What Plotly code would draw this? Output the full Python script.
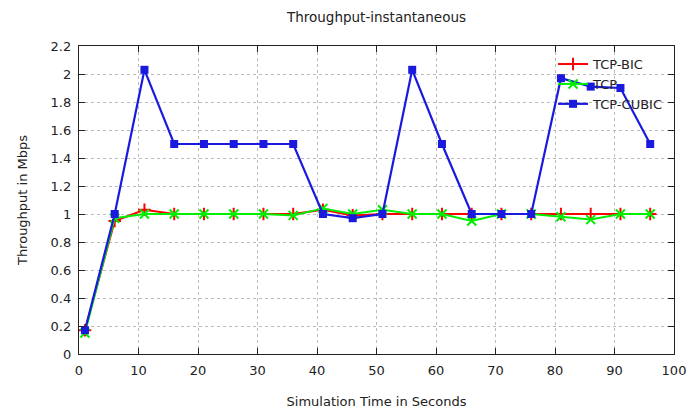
import plotly.graph_objects as go

time_s = [1, 6, 11, 16, 21, 26, 31, 36, 41, 46, 51, 56, 61, 66, 71, 76, 81, 86, 91, 96]
tcp_bic = [0.17, 0.95, 1.03, 1.0, 1.0, 1.0, 1.0, 1.0, 1.03, 0.99, 1.0, 1.0, 1.0, 1.0, 1.0, 1.0, 1.0, 1.0, 1.0, 1.0]
tcp = [0.15, 0.97, 1.0, 1.0, 1.0, 1.0, 1.0, 0.99, 1.04, 1.0, 1.03, 1.0, 1.0, 0.95, 1.0, 1.0, 0.98, 0.96, 1.0, 1.0]
tcp_cubic = [0.17, 1.0, 2.03, 1.5, 1.5, 1.5, 1.5, 1.5, 1.0, 0.97, 1.0, 2.03, 1.5, 1.0, 1.0, 1.0, 1.97, 1.91, 1.9, 1.5]

x_ticks = list(range(0, 101, 10))
y_ticks = [round(0.2 * i, 1) for i in range(12)]

fig = go.Figure()
fig.add_trace(go.Scatter(x=time_s, y=tcp_bic, name="TCP-BIC", mode="lines+markers",
                         line=dict(color="#ff0000", width=2),
                         marker=dict(symbol="cross-thin", size=9, line=dict(color="#ff0000", width=2))))
fig.add_trace(go.Scatter(x=time_s, y=tcp, name="TCP", mode="lines+markers",
                         line=dict(color="#00ee00", width=2),
                         marker=dict(symbol="x-thin", size=9, line=dict(color="#00ee00", width=2))))
fig.add_trace(go.Scatter(x=time_s, y=tcp_cubic, name="TCP-CUBIC", mode="lines+markers",
                         line=dict(color="#1a1adf", width=2.2),
                         marker=dict(symbol="square", size=8, color="#1a1adf")))

axis_common = dict(showline=True, linecolor="#222", linewidth=1.3, mirror="ticks",
                   ticks="inside", ticklen=6, tickcolor="#222", automargin=False,
                   showgrid=True, gridcolor="#bbbbbb", griddash="dot", gridwidth=1,
                   zeroline=False, tickfont=dict(size=13, color="#222"))

fig.update_layout(
    width=688, height=412,
    margin=dict(l=79, r=14, t=46, b=58),
    plot_bgcolor="white", paper_bgcolor="white",
    font=dict(family="DejaVu Sans", size=13, color="#222"),
    title=dict(text="Throughput-instantaneous", xref="paper", x=0.5, xanchor="center",
               yref="container", y=0.958, yanchor="middle", font=dict(size=13.5)),
    xaxis=dict(range=[0, 100], tickvals=x_ticks, ticklabelstandoff=4,
               title=dict(text="Simulation Time in Seconds", standoff=20, font=dict(size=13)), **axis_common),
    yaxis=dict(range=[0, 2.2], tickvals=y_ticks, ticklabelstandoff=4,
               title=dict(text="Throughput in Mbps", standoff=20, font=dict(size=13)), **axis_common),
    legend=dict(x=0.99, y=0.99, xanchor="right", yanchor="top", bgcolor="rgba(0,0,0,0)",
                font=dict(size=13), tracegroupgap=0),
    showlegend=True,
)

fig.write_html("out.html")
